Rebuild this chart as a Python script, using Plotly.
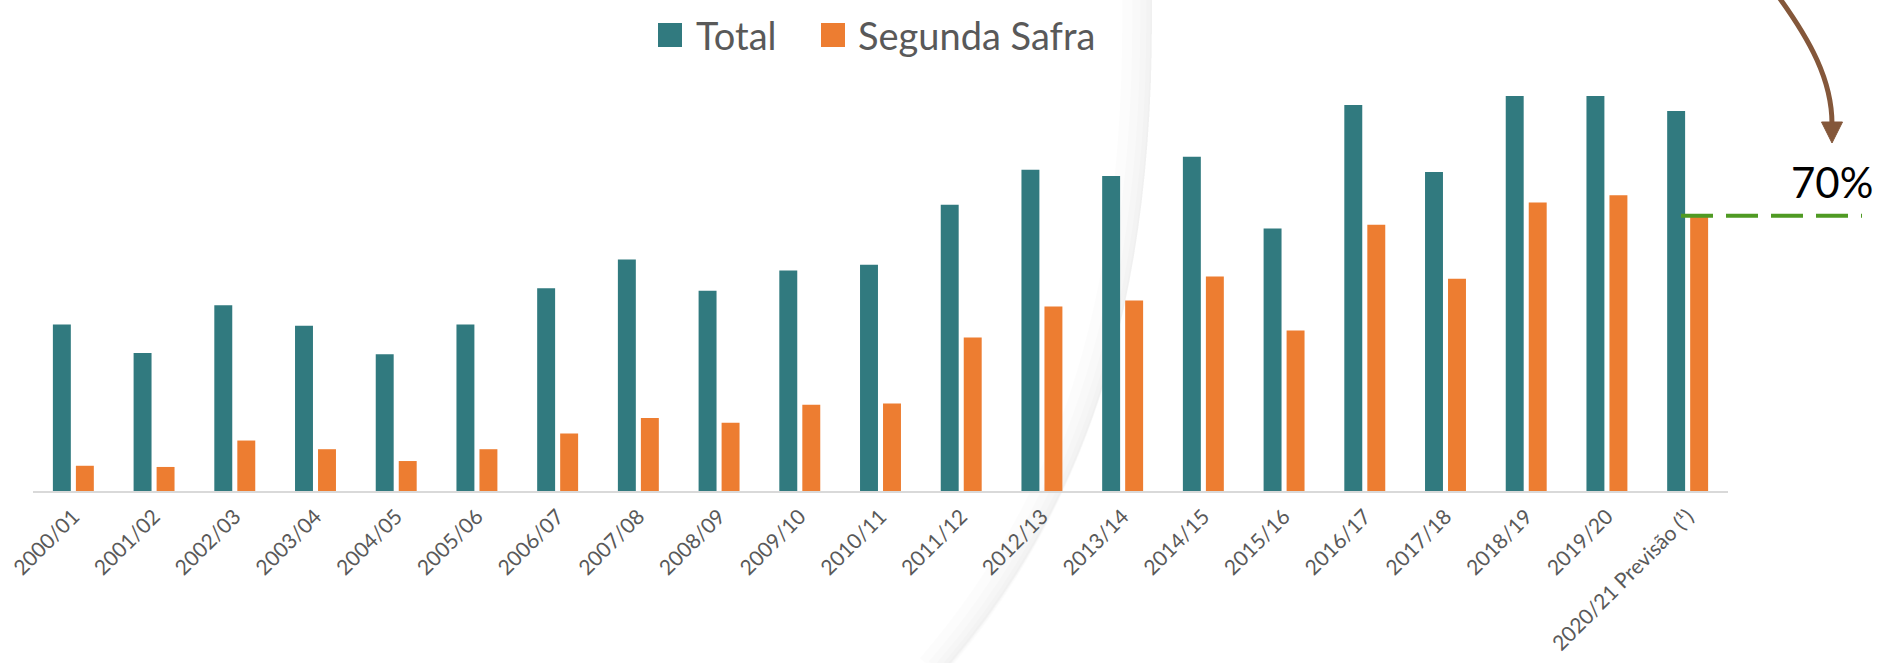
import plotly.graph_objects as go

# ---- data ----
categories = ["2000/01", "2001/02", "2002/03", "2003/04", "2004/05", "2005/06",
              "2006/07", "2007/08", "2008/09", "2009/10", "2010/11", "2011/12",
              "2012/13", "2013/14", "2014/15", "2015/16", "2016/17", "2017/18",
              "2018/19", "2019/20", "2020/21 Previsão (¹)"]
total = [42.2, 35.0, 47.1, 41.9, 34.7, 42.2, 51.4, 58.7, 50.8, 55.9, 57.4,
         72.6, 81.5, 79.9, 84.8, 66.6, 97.9, 80.9, 100.2, 100.2, 96.4]
segunda = [6.4, 6.1, 12.8, 10.6, 7.6, 10.6, 14.6, 18.5, 17.3, 21.9, 22.2,
           38.9, 46.8, 48.3, 54.4, 40.7, 67.5, 53.8, 73.2, 75.0, 69.8]
series_names = ["Total", "Segunda Safra"]
share_label = "70%"

# ---- style ----
TEAL = "#317A7F"
ORANGE = "#ED7D31"
GREEN = "#4F9A23"
BROWN = "#84573A"
GREY_TXT = "#595959"
FONT = "Lato"
YMAX = 105

W, H = 1878, 663
L, R, T, B = 33, 1728, 77, 491


def px(x):
    return (x - L) / (R - L)


def py(y):
    return (B - y) / (B - T)


fig = go.Figure()
fig.add_trace(go.Bar(x=categories, y=total, name=series_names[0],
                     marker=dict(color=TEAL, line=dict(width=0)), showlegend=False))
fig.add_trace(go.Bar(x=categories, y=segunda, name=series_names[1],
                     marker=dict(color=ORANGE, line=dict(width=0)), showlegend=False))

shapes = []
annotations = []

# background slide curve with soft shadow on its left
def curve(dx):
    p = [(1152 + dx, -2), (1155 + dx, 250), (1110 + dx, 480), (946 + dx, 668)]
    return "M {},{} C {},{} {},{} {},{}".format(
        *sum([[px(a), py(b)] for a, b in p], []))

for w in [30, 20, 12, 6, 2]:
    shapes.append(dict(type="path", xref="paper", yref="paper", path=curve(-w / 2),
                       line=dict(color="rgba(0,0,0,0.013)", width=w), layer="below"))

# manual legend
leg = [(658, 694, TEAL, series_names[0]), (821, 856, ORANGE, series_names[1])]
for sx, tx, col, name in leg:
    shapes.append(dict(type="rect", xref="paper", yref="paper",
                       x0=px(sx), x1=px(sx + 24), y0=py(47), y1=py(23),
                       fillcolor=col, line=dict(width=0)))
    annotations.append(dict(x=px(tx), y=py(35), xref="paper", yref="paper",
                            text=name, showarrow=False, xanchor="left", yanchor="middle",
                            font=dict(family=FONT, size=38, color=GREY_TXT)))

# green dashed line at the forecast second-crop level
lvl = segunda[-1] / YMAX
shapes.append(dict(type="line", xref="paper", yref="paper",
                   x0=px(1681), x1=px(1862), y0=lvl, y1=lvl,
                   line=dict(color=GREEN, width=4, dash="32px,13px")))

annotations.append(dict(x=px(1832), y=py(182), xref="paper", yref="paper",
                        text=share_label, showarrow=False, xanchor="center", yanchor="middle",
                        font=dict(family=FONT, size=42, color="#000000")))

# curved brown arrow
ap = [(1778, -4), (1810, 40), (1832, 80), (1832, 124)]
shapes.append(dict(type="path", xref="paper", yref="paper",
                   path="M {},{} C {},{} {},{} {},{}".format(*sum([[px(a), py(b)] for a, b in ap], [])),
                   line=dict(color=BROWN, width=5)))
head = [(1821.5, 122), (1842.5, 122), (1832, 143)]
shapes.append(dict(type="path", xref="paper", yref="paper",
                   path="M {},{} L {},{} L {},{} Z".format(*sum([[px(a), py(b)] for a, b in head], [])),
                   fillcolor=BROWN, line=dict(color=BROWN, width=1)))

fig.update_layout(
    width=W, height=H,
    margin=dict(l=L, r=W - R, t=T, b=H - B, pad=0, autoexpand=False),
    paper_bgcolor="white", plot_bgcolor="rgba(0,0,0,0)",
    barmode="group", bargap=0.43, bargroupgap=0.22,
    shapes=shapes, annotations=annotations,
    font=dict(family=FONT, color=GREY_TXT),
)
fig.update_xaxes(type="category", showline=True, linecolor="#D9D9D9", linewidth=2,
                 showgrid=False, zeroline=False, tickangle=-45, automargin=False,
                 ticks="outside", ticklen=3, tickcolor="rgba(0,0,0,0)",
                 tickfont=dict(family=FONT, size=21, color=GREY_TXT))
fig.update_yaxes(range=[0, YMAX], visible=False, showgrid=False, automargin=False)

fig.write_html("out.html", config={"displayModeBar": False},
               post_script="document.body.style.margin='0';")
